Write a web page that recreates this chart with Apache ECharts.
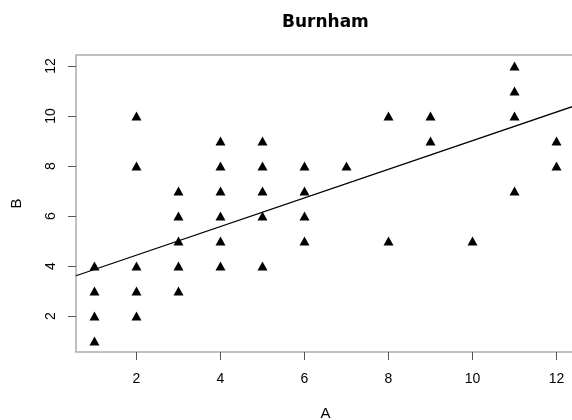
<!DOCTYPE html>
<html>
<head>
<meta charset="utf-8">
<script src="https://cdn.jsdelivr.net/npm/echarts@6/dist/echarts.min.js"></script>
<style>
html,body{margin:0;padding:0;background:#fff;}
#chart{width:572px;height:420px;}
</style>
</head>
<body>
<div id="chart"></div>
<script>
// Data
const xValues = [1,1,1,1, 2,2,2,2,2, 3,3,3,3,3, 4,4,4,4,4,4, 5,5,5,5,5, 6,6,6,6, 7, 8,8, 9,9, 10, 11,11,11,11, 12,12];
const yValues = [1,2,3,4, 2,3,4,8,10, 3,4,5,6,7, 4,5,6,7,8,9, 4,6,7,8,9, 5,6,7,8, 8, 5,10, 9,10, 5, 7,10,11,12, 8,9];
// fitted line, endpoints read at the plot edges
const lineX = [0.56, 12.44];
const lineY = [3.61, 10.41];
const tickValues = [2, 4, 6, 8, 10, 12];
const axisRange = [0.56, 12.44];
const titleText = 'Burnham';
const xName = 'A';
const yName = 'B';

const points = xValues.map((x, i) => [x, yValues[i]]);
const linePts = lineX.map((x, i) => [x, lineY[i]]);

const FONT = '"Liberation Sans", Arial, Helvetica, sans-serif';
const chart = echarts.init(document.getElementById('chart'), null, {renderer: 'canvas'});
chart.setOption({
  animation: false,
  backgroundColor: '#ffffff',
  title: {
    text: titleText,
    left: 282, top: 14, padding: 0,
    textStyle: {fontFamily: '"DejaVu Sans", sans-serif', fontWeight: 'bold', fontSize: 17, color: '#000'}
  },
  grid: {
    left: 76, top: 55, width: 499, height: 297,
    show: true, borderColor: '#aaaaaa', borderWidth: 1.5,
    outerBoundsMode: 'none', containLabel: false
  },
  xAxis: {
    type: 'value', min: axisRange[0], max: axisRange[1],
    name: xName, nameLocation: 'middle', nameGap: 54,
    nameTextStyle: {fontFamily: FONT, fontSize: 15, color: '#000'},
    axisLine: {show: false},
    splitLine: {show: false},
    axisTick: {show: true, length: 8, customValues: tickValues, lineStyle: {color: '#555', width: 1}},
    axisLabel: {customValues: tickValues, margin: 20, fontFamily: FONT, fontSize: 14, color: '#000'}
  },
  yAxis: {
    type: 'value', min: axisRange[0], max: axisRange[1],
    name: yName, nameLocation: 'middle', nameGap: 52,
    nameTextStyle: {fontFamily: FONT, fontSize: 15, color: '#000'},
    axisLine: {show: false},
    splitLine: {show: false},
    axisTick: {show: true, length: 8, customValues: tickValues, lineStyle: {color: '#555', width: 1}},
    axisLabel: {customValues: tickValues, rotate: 90, margin: 18, fontFamily: FONT, fontSize: 14, color: '#000'}
  },
  series: [
    {
      type: 'scatter', data: points, symbol: 'triangle', symbolSize: [10, 9],
      itemStyle: {color: '#000', opacity: 1}, z: 3
    },
    {
      type: 'line', data: linePts, showSymbol: false, symbol: 'none',
      lineStyle: {color: '#000', width: 1.3}, z: 2
    }
  ]
});
</script>
</body>
</html>
